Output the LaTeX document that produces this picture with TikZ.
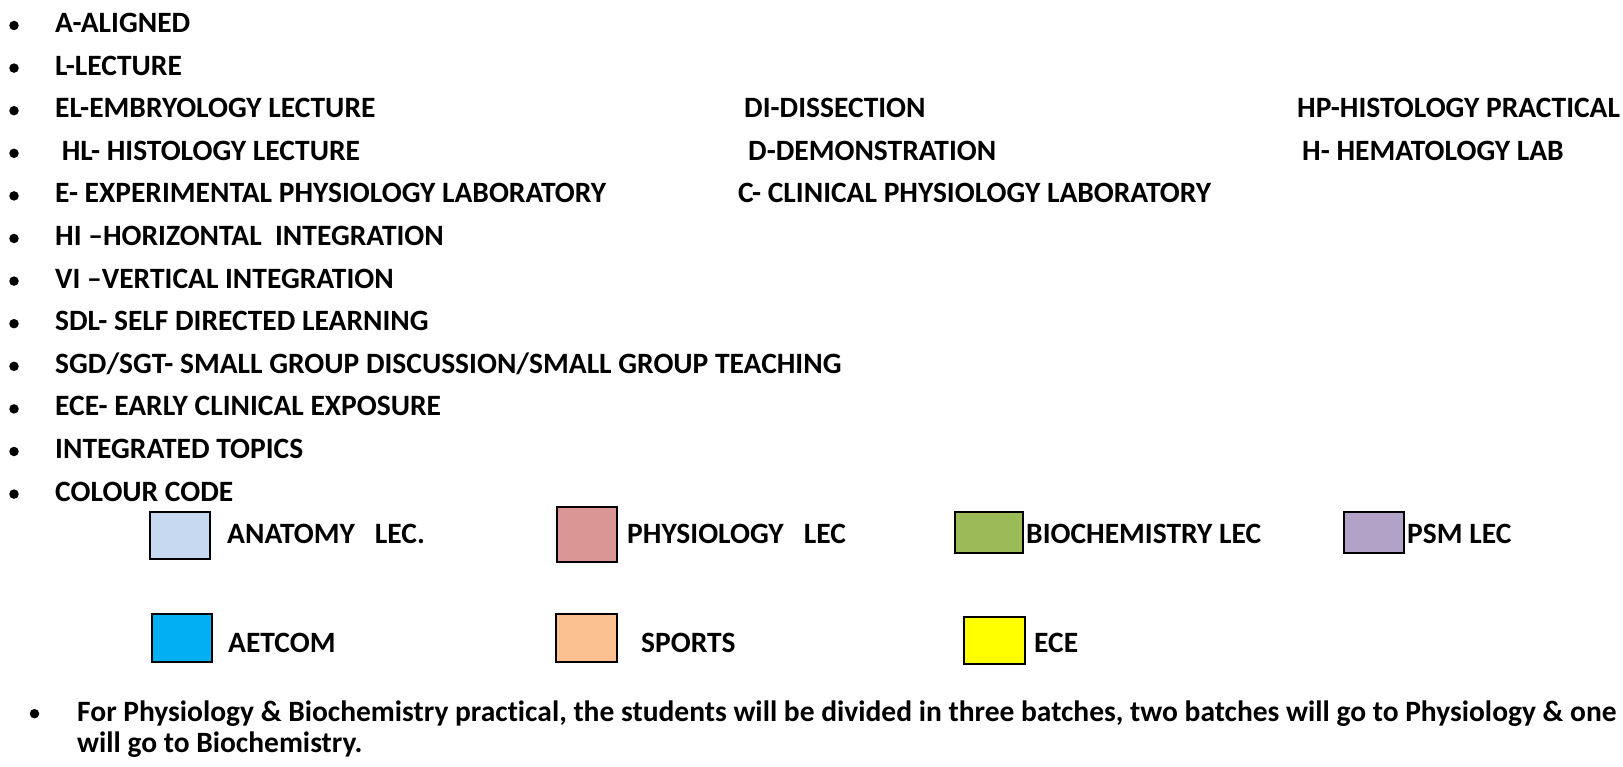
\documentclass[tikz,border=0pt]{standalone}
\usepackage{fontspec}
\setmainfont{Carlito}[Ligatures={TeX,NoCommon}]
\definecolor{anat}{RGB}{198,217,241}
\definecolor{phys}{RGB}{217,150,148}
\definecolor{bioc}{RGB}{155,187,89}
\definecolor{psm}{RGB}{178,162,199}
\definecolor{aetc}{RGB}{0,176,240}
\definecolor{sprt}{RGB}{250,192,144}
\definecolor{ecec}{RGB}{255,255,0}
\begin{document}
\begin{tikzpicture}[x=1pt,y=-1pt,
  lbl/.style={anchor=base west,inner sep=0pt,font=\fontsize{29.5}{34}\selectfont\bfseries},
  bul/.style={circle,fill=black,inner sep=0pt,minimum size=9.5pt},
  swatch/.style={draw=black,line width=2pt,inner sep=0pt}]
\useasboundingbox (0,0) rectangle (1623,767);
% bullet rows
\foreach \i/\t [count=\n] in {0/{A-ALIGNED},1/{L-LECTURE},2/{EL-EMBRYOLOGY LECTURE},3/{\ HL- HISTOLOGY LECTURE},4/{E- EXPERIMENTAL PHYSIOLOGY LABORATORY},5/{HI --HORIZONTAL\ \ INTEGRATION},6/{VI --VERTICAL INTEGRATION},7/{SDL- SELF DIRECTED LEARNING},8/{SGD/SGT- SMALL GROUP DISCUSSION/SMALL GROUP TEACHING},9/{ECE- EARLY CLINICAL EXPOSURE},10/{INTEGRATED TOPICS},11/{COLOUR CODE}}{
  \node[bul] (b\n) at (14,{32.5+42.6*\i-7}) {};
  \node[lbl] (t\n) at (55,{32.5+42.6*\i}) {\t};
}
\node[lbl] (di) at (744,117.7) {DI-DISSECTION};
\node[lbl] (hp) at (1297,117.7) {HP-HISTOLOGY PRACTICAL};
\node[lbl] (dm) at (748,160.3) {D-DEMONSTRATION};
\node[lbl] (hm) at (1302,160.3) {H- HEMATOLOGY LAB};
\node[lbl] (cl) at (738,202.9) {C- CLINICAL PHYSIOLOGY LABORATORY};
% colour code swatches
\node[swatch,fill=anat,minimum width=60pt,minimum height=47pt] (sa) at (180,535.5) {};
\node[lbl] (la) at (227,543) {ANATOMY\ \ \ LEC.};
\node[swatch,fill=phys,minimum width=60pt,minimum height=55pt] (sp) at (587,534.5) {};
\node[lbl] (lp) at (627,543) {PHYSIOLOGY\ \ \ LEC};
\node[swatch,fill=bioc,minimum width=68pt,minimum height=41pt] (sb) at (989,532.5) {};
\node[lbl] (lb) at (1026,543) {BIOCHEMISTRY LEC};
\node[swatch,fill=psm,minimum width=60pt,minimum height=41pt] (sm) at (1374,532.5) {};
\node[lbl] (lm) at (1407,543) {PSM LEC};
\node[swatch,fill=aetc,minimum width=60pt,minimum height=48pt] (se) at (182,638) {};
\node[lbl] (le) at (228,652) {AETCOM};
\node[swatch,fill=sprt,minimum width=61pt,minimum height=48pt] (ss) at (586.5,638) {};
\node[lbl] (ls) at (641,652) {SPORTS};
\node[swatch,fill=ecec,minimum width=61pt,minimum height=47pt] (sc) at (994.5,640.5) {};
\node[lbl] (lc) at (1034,652) {ECE};
% note
\node[bul] (bn) at (34.5,713.7) {};
\node[lbl] (n1) at (77,721.3) {For Physiology \& Biochemistry practical, the students will be divided in three batches, two batches will go to Physiology \& one};
\node[lbl] (n2) at (77,752) {will go to Biochemistry.};
\end{tikzpicture}
\end{document}
